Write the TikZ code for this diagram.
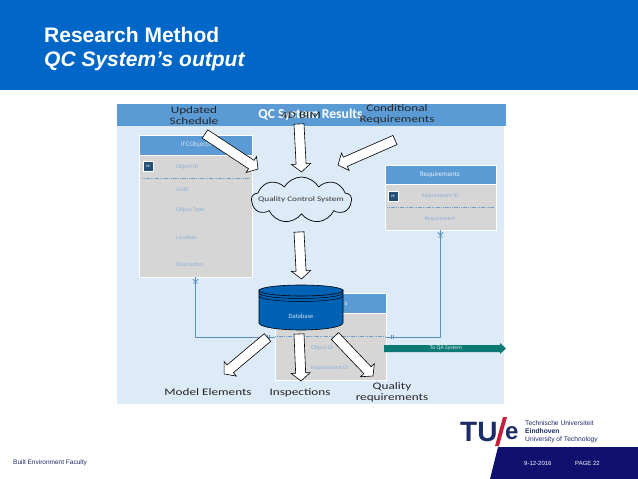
\documentclass[tikz,border=0pt]{standalone}
\usepackage{fontspec}
\setmainfont{Liberation Sans}
\newfontfamily\cali{Carlito}
\newfontfamily\caliw[FakeStretch=1.32]{Carlito}
\usetikzlibrary{shapes.symbols,shapes.geometric,calc}
\definecolor{tuhead}{HTML}{0066C8}
\definecolor{dbblue}{HTML}{0062B4}
\definecolor{panel}{HTML}{DDEAF7}
\definecolor{hdr}{HTML}{5B9BD5}
\definecolor{body}{HTML}{D6D6D6}
\definecolor{pk}{HTML}{264F78}
\definecolor{lnk}{HTML}{5A8FC0}
\definecolor{fld}{HTML}{8FB0D6}
\definecolor{teal}{HTML}{0B7A75}
\definecolor{navy}{HTML}{10106E}
\definecolor{tured}{HTML}{C8203C}
\definecolor{tublue}{HTML}{1C2C66}
\tikzset{
 x=1pt,y=-1pt,
 blockarrow/.style={draw=black,fill=white,line width=.6pt,line join=miter},
 hdrbox/.style={fill=hdr,draw=white,line width=1pt},
 bodybox/.style={fill=body,draw=white,line width=1pt},
 hdrtext/.style={font=\cali\fontsize{7}{8}\selectfont,text=white!85!hdr,inner sep=0pt},
 fieldtext/.style={font=\cali\fontsize{5.8}{7}\selectfont,text=fld,inner sep=0pt},
 labeltext/.style={font=\caliw\fontsize{10}{11}\selectfont,text=black!85,align=center,inner sep=0pt},
 pkbox/.style={fill=pk,draw=white,line width=.6pt,minimum size=10pt,inner sep=0pt,font=\cali\fontsize{3.5}{4}\selectfont,text=white},
 rel/.style={draw=lnk,line width=.8pt},
 keyline/.style={draw=lnk!85,dash pattern=on 1.2pt off .6pt,line width=.4pt},
 foot/.style={font=\fontsize{6}{7}\selectfont,inner sep=0pt}
}
\newcommand{\blockarr}[2]{%
 \path (#1) coordinate (ba) (#2) coordinate (bb);
 \draw[blockarrow] let \p1=(ba),\p2=(bb),\n1={atan2(\y2-\y1,\x2-\x1)},\n2={veclen(\x2-\x1,\y2-\y1)} in
  [shift={(ba)},rotate=\n1]
  (0pt,5pt) -- (\n2-8pt,5pt) -- (\n2-8pt,9.5pt) -- (\n2,0pt) -- (\n2-8pt,-9.5pt) -- (\n2-8pt,-5pt) -- (0pt,-5pt) -- cycle;
}
\begin{document}
\begin{tikzpicture}
\useasboundingbox (0,0) rectangle (638,479);
\fill[white] (0,0) rectangle (638,479);
% header band
\fill[tuhead] (0,0) rectangle (638,90);
\node[anchor=west,text=white,inner sep=0pt,font=\bfseries\fontsize{21}{24}\selectfont] (t1) at (44,35) {Research Method};
\node[anchor=west,text=white,inner sep=0pt,font=\bfseries\itshape\fontsize{21}{24}\selectfont] (t2) at (44,61) {QC System’s output};
% panel
\fill[panel] (117,104) rectangle (504,404);
\fill[hdr] (117,104) rectangle (506,126);
\node[text=white,font=\cali\bfseries\fontsize{13.7}{15}\selectfont,inner sep=0pt] (ttl) at (310.5,115) {QC System Results};
% IFC object
\draw[hdrbox] (139.5,135.5) rectangle (252.5,155.5);
\draw[bodybox] (139.5,155.5) rectangle (252.5,277);
\node[hdrtext,text=white!70!hdr] (ifc) at (196,145) {IFCObjects};
\node[pkbox] (pk1) at (148,166.5) {PK};
\draw[keyline] (142,178.5) -- (250,178.5);
\node[fieldtext,anchor=west] (f1) at (176,167) {Object ID};
\node[fieldtext,anchor=west] (f2) at (176,190) {GUID};
\node[fieldtext,anchor=west] (f3) at (176,210) {Object Type};
\node[fieldtext,anchor=west] (f4) at (176,238) {Location};
\node[fieldtext,anchor=west] (f5) at (176,265) {Description};
% Requirements
\draw[hdrbox] (385,165.5) rectangle (496,184.5);
\draw[bodybox] (385,184.5) rectangle (496,230);
\node[hdrtext] (rq) at (440,175) {Requirements};
\node[pkbox] (pk2) at (393,196) {PK};
\draw[keyline] (387,207.5) -- (494,207.5);
\node[fieldtext] (r1) at (440,196) {Requirement ID};
\node[fieldtext] (r2) at (440,219) {Requirement};
% Results table
\draw[hdrbox] (275,293.5) rectangle (386,313);
\draw[bodybox] (275,313) rectangle (386,380);
\node[hdrtext] (rs) at (346,304) {s};
\node[fieldtext,anchor=west] (o1) at (311,348) {Object ID};
\node[fieldtext,anchor=west] (o2) at (311,368) {Requirement ID};
\draw[keyline] (275,336.5) -- (386,336.5);
% relations
\coordinate (relA) at (195.5,277);
\coordinate (relB) at (440.5,230);
\coordinate (relC) at (275,337);
\coordinate (relD) at (386,337);
\draw[rel] (relA) |- (relC);
\draw[rel] (relB) |- (relD);
\draw[rel] (193,283) -- (198,283) (193,279) -- (195.5,282) -- (198,279);
\draw[rel] (438,237) -- (443,237) (438,232) -- (440.5,236) -- (443,232);
\draw[rel,line width=.5pt] (267,335) -- (267,339) (269,335) -- (269,339);
\draw[rel,line width=.5pt] (391,335) -- (391,339) (393,335) -- (393,339);
% To QA system
\fill[teal] (384,345) -- (500,345) -- (500,343) -- (506,348.5) -- (500,354) -- (500,352) -- (384,352) -- cycle;
\node[text=white!85!teal,font=\cali\fontsize{5.8}{7}\selectfont,inner sep=0pt] (qa) at (446,348.5) {To QA System};
% cloud
\node[cloud,cloud puffs=9,cloud puff arc=120,aspect=2.3,draw=black,fill=panel,line width=.7pt,inner sep=0pt,minimum width=100pt,minimum height=46pt] (qcs) at (301.5,200) {};
\node[font=\caliw\fontsize{7}{8}\selectfont,text=black!80,inner sep=0pt] (qct) at (301,200) {Quality Control System};
% database
\path[fill=dbblue,draw=black,line width=.6pt] (259,290) -- (259,323) arc[start angle=180,end angle=0,x radius=42,y radius=7] -- (343,290) -- cycle;
\path[fill=dbblue,draw=black,line width=.6pt] (301,290.5) ellipse[x radius=42,y radius=5.5];
\draw[black,line width=.5pt] (259,293) arc[start angle=180,end angle=0,x radius=42,y radius=5.5];
\draw[black,line width=.5pt] (259,296) arc[start angle=180,end angle=0,x radius=42,y radius=5.5];
\node[text=white!70!hdr,font=\cali\fontsize{6.5}{7}\selectfont,inner sep=0pt] (db) at (301,316) {Database};
% block arrows
\coordinate (a1s) at (205,134); \coordinate (a1e) at (258,169);
\blockarr{a1s}{a1e}
\coordinate (a2s) at (299,124); \coordinate (a2e) at (301.5,172);
\blockarr{a2s}{a2e}
\coordinate (a3s) at (395,140); \coordinate (a3e) at (338,165);
\blockarr{a3s}{a3e}
\coordinate (a4s) at (299,232); \coordinate (a4e) at (301.5,279);
\blockarr{a4s}{a4e}
\coordinate (a5s) at (267.5,337.5); \coordinate (a5e) at (224,374);
\blockarr{a5s}{a5e}
\coordinate (a6s) at (299,334); \coordinate (a6e) at (301,381);
\blockarr{a6s}{a6e}
\coordinate (a7s) at (335,336); \coordinate (a7e) at (373,376);
\blockarr{a7s}{a7e}
% labels
\node[labeltext] (l1) at (194,115.5) {Updated\\Schedule};
\node[labeltext] (l2) at (301,115) {4D BIM};
\node[labeltext] (l3) at (397,114.5) {Conditional\\Requirements};
\node[labeltext] (l4) at (208,392) {Model Elements};
\node[labeltext] (l5) at (300,393) {Inspections};
\node[labeltext] (l6) at (392,392.5) {Quality\\requirements};
% footer
\fill[navy] (498,447) -- (638,447) -- (638,479) -- (490,479) -- cycle;
\node[foot,anchor=west,text=tublue,font=\fontsize{6.5}{7}\selectfont] (bf) at (13,463) {Built Environment Faculty};
\node[foot,anchor=west,text=white] (dt) at (524,463.5) {9-12-2016};
\node[foot,anchor=west,text=white] (pg) at (575,463.5) {PAGE 22};
% logo
\node[anchor=west,inner sep=0pt,text=tublue,font=\bfseries\fontsize{28}{30}\selectfont] (tu) at (460,432) {TU};
\fill[tured] (495,446) -- (499,446) -- (507,417) -- (503,417) -- cycle;
\node[anchor=west,inner sep=0pt,text=tublue,font=\bfseries\fontsize{24}{26}\selectfont] (e) at (505,433) {e};
\node[anchor=north west,inner sep=0pt,align=left,text=tublue,font=\fontsize{6.7}{8}\selectfont] (uni) at (525,420.5) {Technische Universiteit\\\textbf{Eindhoven}\\University of Technology};
\end{tikzpicture}
\end{document}
